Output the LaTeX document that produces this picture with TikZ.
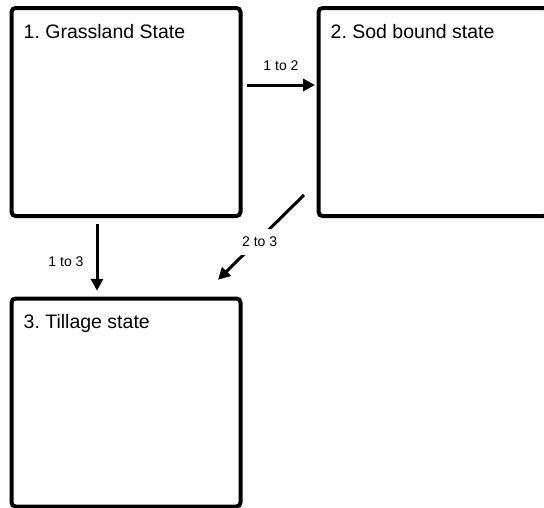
\documentclass[tikz,border=0pt]{standalone}
\usepackage{fontspec}
\setmainfont{Liberation Sans}
\usetikzlibrary{positioning,arrows.meta}
\frenchspacing
\begin{document}
\begin{tikzpicture}[x=1pt,y=1pt,
  statebox/.style={draw,line width=4pt,rounded corners=4pt,minimum width=229pt,minimum height=208pt,inner sep=0pt,outer sep=0pt},
  title/.style={inner sep=0pt,anchor=base west,font=\fontsize{19.5}{22}\selectfont},
  flow/.style={line width=3pt,-{Triangle[length=12pt,width=12pt]}},
  tag/.style={inner sep=0pt,font=\fontsize{14}{16}\selectfont}]
\clip (0,0) rectangle (544,-507);
\node[statebox] (s1) at (126,-112) {};
\node[statebox,right=78pt of s1] (s2) {};
\node[statebox,below=82.5pt of s1] (s3) {};
\node[title] (t1) at ([shift={(12,-30)}]s1.north west) {1. Grassland State};
\node[title] (t2) at ([shift={(12,-30)}]s2.north west) {2. Sod bound state};
\node[title] (t3) at ([shift={(12,-30)}]s3.north west) {3. Tillage state};
\draw[flow] ([shift={(6.5,27)}]s1.east) -- node[tag,above=13pt] (l12) {1 to 2} ([shift={(-3.5,27)}]s2.west);
\draw[flow] ([shift={(-29,-8)}]s1.south) -- node[tag,left=12pt,yshift=-4pt] (l13) {1 to 3} ([shift={(-29,7.7)}]s3.north);
\draw[flow] ([shift={(-14.5,21)}]s2.south west) -- node[tag,pos=0.55,xshift=3pt,fill=white,inner xsep=2pt,inner ysep=8pt] (l23) {2 to 3} ([shift={(-22.5,18.7)}]s3.north east);
\end{tikzpicture}
\end{document}
